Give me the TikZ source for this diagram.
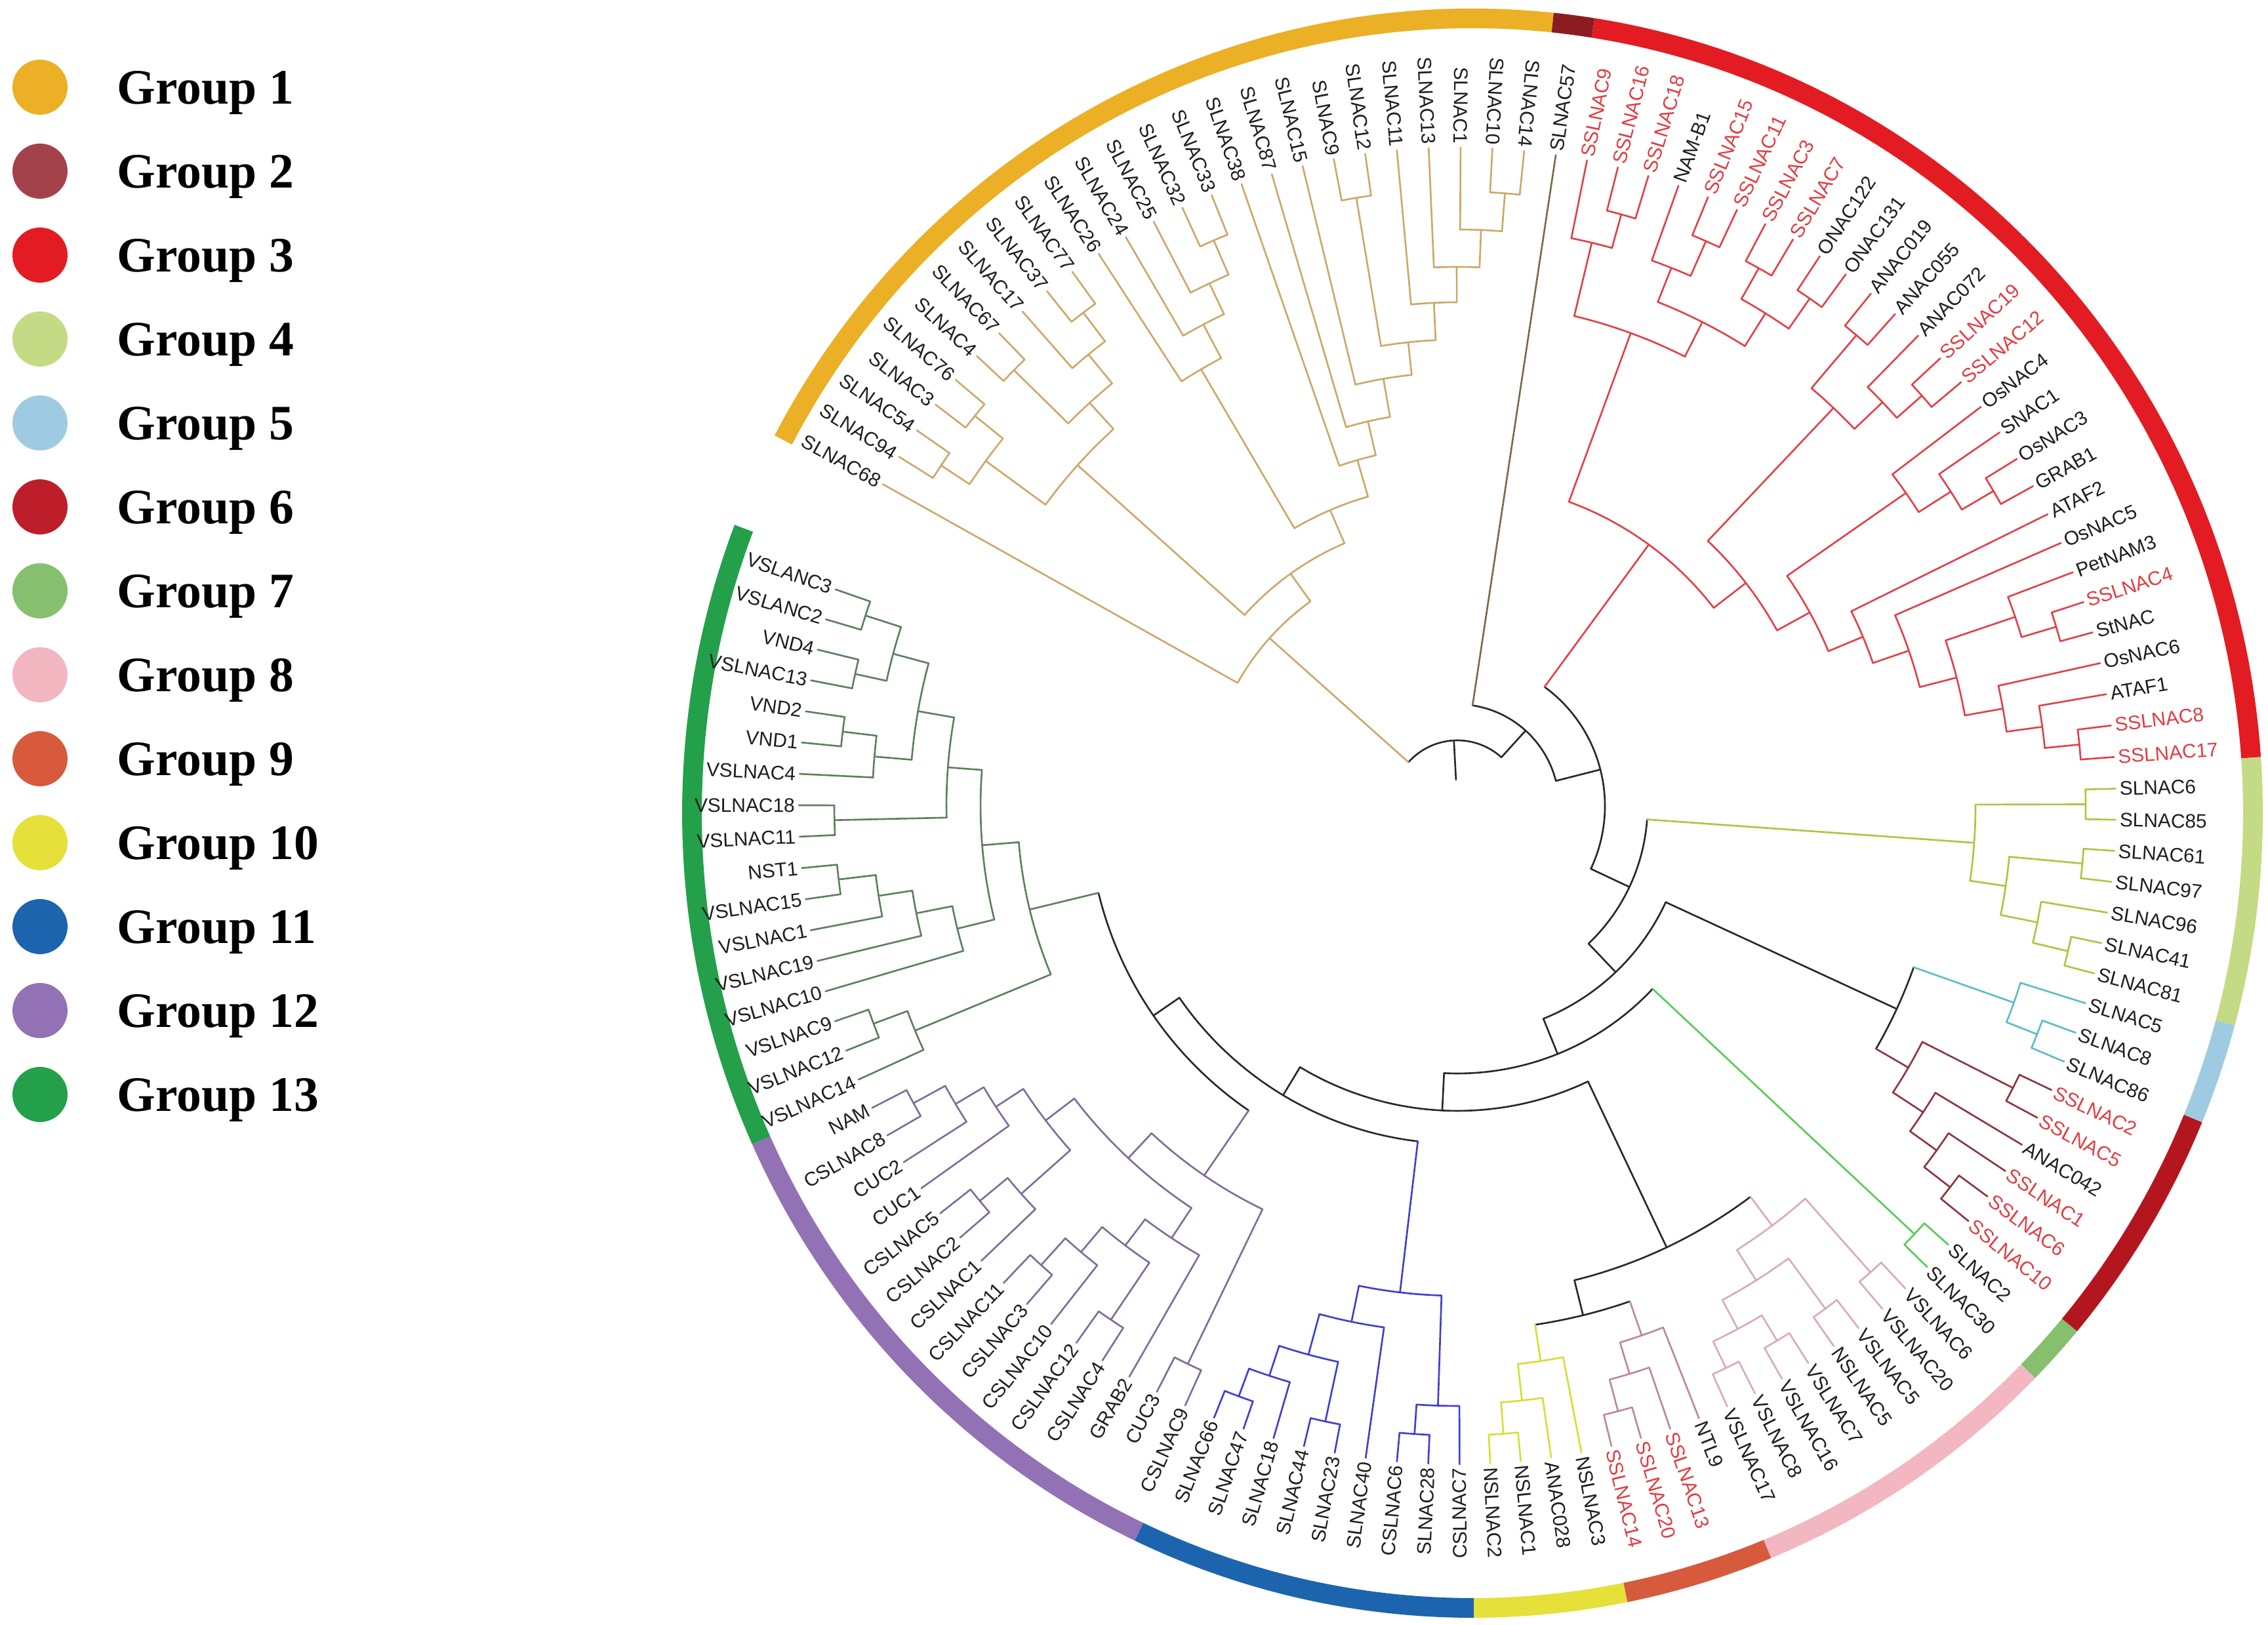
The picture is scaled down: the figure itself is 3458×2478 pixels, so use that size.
\documentclass[tikz,border=0pt]{standalone}
\usepackage{fontspec}
\setmainfont{Liberation Sans}
\newfontfamily\legfont{Liberation Serif}
% branch colours
\definecolor{c1}{RGB}{204,168,104}
\definecolor{c2}{RGB}{125,105,72}
\definecolor{c3}{RGB}{226,64,72}
\definecolor{c4}{RGB}{168,200,64}
\definecolor{c5}{RGB}{92,188,198}
\definecolor{c6}{RGB}{142,52,62}
\definecolor{c7}{RGB}{84,204,84}
\definecolor{c8}{RGB}{216,172,178}
\definecolor{c9}{RGB}{188,138,144}
\definecolor{c10}{RGB}{214,222,52}
\definecolor{c11}{RGB}{62,62,210}
\definecolor{c12}{RGB}{128,108,152}
\definecolor{c13}{RGB}{92,128,92}
\definecolor{cb}{RGB}{40,40,40}
\definecolor{tk}{RGB}{30,30,30}
\definecolor{tr}{RGB}{226,60,66}
% legend / ring colours
\definecolor{k1}{RGB}{235,176,38}
\definecolor{k2}{RGB}{164,66,75}
\definecolor{r2}{RGB}{140,28,34}
\definecolor{k3}{RGB}{226,28,34}
\definecolor{k4}{RGB}{196,218,132}
\definecolor{k5}{RGB}{159,203,226}
\definecolor{k6}{RGB}{190,30,42}
\definecolor{r6}{RGB}{180,22,32}
\definecolor{k7}{RGB}{134,191,109}
\definecolor{k8}{RGB}{242,183,193}
\definecolor{k9}{RGB}{214,90,59}
\definecolor{k10}{RGB}{230,224,58}
\definecolor{k11}{RGB}{28,100,174}
\definecolor{k12}{RGB}{147,113,181}
\definecolor{k13}{RGB}{36,160,74}

\def\Rleaf{1004}
\def\Rlab{1006}

% angle of leaf #1 (piecewise linear calibration)
\newcommand\leafangle[1]{%
  \ifnum#1<26 \pgfmathsetmacro\tmpA{150.75-(#1)*2.774}%
  \else\ifnum#1<55 \pgfmathsetmacro\tmpA{81.4-(#1-25)*2.755}%
  \else\ifnum#1<71 \pgfmathsetmacro\tmpA{1.5-(#1-54)*2.706}%
  \else\ifnum#1<89 \pgfmathsetmacro\tmpA{-41.8-(#1-70)*2.667}%
  \else \pgfmathsetmacro\tmpA{-89.8-(#1-88)*2.735}%
  \fi\fi\fi\fi}

% leaf: index, text, branch colour, text colour
\newcommand\tleaf[4]{%
  \leafangle{#1}%
  \expandafter\xdef\csname TA@l#1\endcsname{\tmpA}%
  \expandafter\xdef\csname TR@l#1\endcsname{\Rleaf}%
  \expandafter\xdef\csname TC@l#1\endcsname{#3}%
  \ifnum#1<25 \pgfmathsetmacro\tmpB{\tmpA+180}%
    \node[lab,text=#4,rotate=\tmpB,anchor=east] (l#1) at (\tmpA:\Rlab) {#2};%
  \else\ifnum#1>87 \pgfmathsetmacro\tmpB{\tmpA+180}%
    \node[lab,text=#4,rotate=\tmpB,anchor=east] (l#1) at (\tmpA:\Rlab) {#2};%
  \else
    \node[lab,text=#4,rotate=\tmpA,anchor=west] (l#1) at (\tmpA:\Rlab) {#2};%
  \fi\fi}

% clade: name, radius, child1, child2, colour
\newcommand\tclade[5]{%
  \edef\tAa{\csname TA@#3\endcsname}\edef\tAb{\csname TA@#4\endcsname}%
  \edef\tRa{\csname TR@#3\endcsname}\edef\tRb{\csname TR@#4\endcsname}%
  \edef\tCa{\csname TC@#3\endcsname}\edef\tCb{\csname TC@#4\endcsname}%
  \pgfmathsetmacro\tmpA{(\tAa+\tAb)/2}%
  \expandafter\xdef\csname TA@#1\endcsname{\tmpA}%
  \expandafter\xdef\csname TR@#1\endcsname{#2}%
  \expandafter\xdef\csname TC@#1\endcsname{#5}%
  \draw[br,draw=#5] (\tAa:#2) arc[start angle=\tAa,end angle=\tAb,radius=#2];%
  \draw[br,draw=\tCa] (\tAa:#2) -- (\tAa:\tRa);%
  \draw[br,draw=\tCb] (\tAb:#2) -- (\tAb:\tRb);%
}

\newcommand\rseg[3]{\draw[line width=3mm,draw=#1] (RC) ++(#2:1190 and 1212) arc[start angle=#2,end angle=#3,x radius=1190,y radius=1212];}

\begin{document}
\begin{tikzpicture}[x=0.1mm,y=0.1mm,
  br/.style={line width=0.75pt,line cap=round},
  lab/.style={font=\fontsize{8.5}{9}\selectfont,inner sep=1pt},
  legtext/.style={font=\legfont\bfseries\fontsize{21.5}{24}\selectfont,inner sep=0pt,anchor=base west}]
\fill[white] (0,0) rectangle (3458,2478);
\useasboundingbox (0,0) rectangle (3458,2478);

% ---------- legend ----------
\foreach \k/\c in {1/k1,2/k2,3/k3,4/k4,5/k5,6/k6,7/k7,8/k8,9/k9,10/k10,11/k11,12/k12,13/k13}{
  \fill[fill=\c] (61,{2345-128*(\k-1)}) circle[radius=42];
  \node[legtext] (lg\k) at (178,{2345-128*(\k-1)-26}) {Group \k};
}

% ---------- outer ring ----------
\coordinate (RC) at (2245,1238);
\rseg{k1}{152}{84.1}
\rseg{r2}{84.1}{81.1}
\rseg{k3}{81.1}{4.0}
\rseg{k4}{4.0}{-15.3}
\rseg{k5}{-15.3}{-22.6}
\rseg{r6}{-22.6}{-40.1}
\rseg{k7}{-40.1}{-44.6}
\rseg{k8}{-44.6}{-67.8}
\rseg{k9}{-67.8}{-78.7}
\rseg{k10}{-78.7}{-89.9}
\rseg{k11}{-89.9}{-115.3}
\rseg{k12}{-115.3}{-155.7}
\rseg{k13}{-155.7}{-201}

% ---------- tree ----------
\begin{scope}[shift={(2222,1249)}]
% leaves
\tleaf{0}{SLNAC68}{c1}{tk}\tleaf{1}{SLNAC94}{c1}{tk}\tleaf{2}{SLNAC54}{c1}{tk}
\tleaf{3}{SLNAC3}{c1}{tk}\tleaf{4}{SLNAC76}{c1}{tk}\tleaf{5}{SLNAC4}{c1}{tk}
\tleaf{6}{SLNAC67}{c1}{tk}\tleaf{7}{SLNAC17}{c1}{tk}\tleaf{8}{SLNAC37}{c1}{tk}
\tleaf{9}{SLNAC77}{c1}{tk}\tleaf{10}{SLNAC26}{c1}{tk}\tleaf{11}{SLNAC24}{c1}{tk}
\tleaf{12}{SLNAC25}{c1}{tk}\tleaf{13}{SLNAC32}{c1}{tk}\tleaf{14}{SLNAC33}{c1}{tk}
\tleaf{15}{SLNAC38}{c1}{tk}\tleaf{16}{SLNAC87}{c1}{tk}\tleaf{17}{SLNAC15}{c1}{tk}
\tleaf{18}{SLNAC9}{c1}{tk}\tleaf{19}{SLNAC12}{c1}{tk}\tleaf{20}{SLNAC11}{c1}{tk}
\tleaf{21}{SLNAC13}{c1}{tk}\tleaf{22}{SLNAC1}{c1}{tk}\tleaf{23}{SLNAC10}{c1}{tk}
\tleaf{24}{SLNAC14}{c1}{tk}
\tleaf{25}{SLNAC57}{c2}{tk}
\tleaf{26}{SSLNAC9}{c3}{tr}\tleaf{27}{SSLNAC16}{c3}{tr}\tleaf{28}{SSLNAC18}{c3}{tr}
\tleaf{29}{NAM-B1}{c3}{tk}\tleaf{30}{SSLNAC15}{c3}{tr}\tleaf{31}{SSLNAC11}{c3}{tr}
\tleaf{32}{SSLNAC3}{c3}{tr}\tleaf{33}{SSLNAC7}{c3}{tr}\tleaf{34}{ONAC122}{c3}{tk}
\tleaf{35}{ONAC131}{c3}{tk}\tleaf{36}{ANAC019}{c3}{tk}\tleaf{37}{ANAC055}{c3}{tk}
\tleaf{38}{ANAC072}{c3}{tk}\tleaf{39}{SSLNAC19}{c3}{tr}\tleaf{40}{SSLNAC12}{c3}{tr}
\tleaf{41}{OsNAC4}{c3}{tk}\tleaf{42}{SNAC1}{c3}{tk}\tleaf{43}{OsNAC3}{c3}{tk}
\tleaf{44}{GRAB1}{c3}{tk}\tleaf{45}{ATAF2}{c3}{tk}\tleaf{46}{OsNAC5}{c3}{tk}
\tleaf{47}{PetNAM3}{c3}{tk}\tleaf{48}{SSLNAC4}{c3}{tr}\tleaf{49}{StNAC}{c3}{tk}
\tleaf{50}{OsNAC6}{c3}{tk}\tleaf{51}{ATAF1}{c3}{tk}\tleaf{52}{SSLNAC8}{c3}{tr}
\tleaf{53}{SSLNAC17}{c3}{tr}
\tleaf{54}{SLNAC6}{c4}{tk}\tleaf{55}{SLNAC85}{c4}{tk}\tleaf{56}{SLNAC61}{c4}{tk}
\tleaf{57}{SLNAC97}{c4}{tk}\tleaf{58}{SLNAC96}{c4}{tk}\tleaf{59}{SLNAC41}{c4}{tk}
\tleaf{60}{SLNAC81}{c4}{tk}
\tleaf{61}{SLNAC5}{c5}{tk}\tleaf{62}{SLNAC8}{c5}{tk}\tleaf{63}{SLNAC86}{c5}{tk}
\tleaf{64}{SSLNAC2}{c6}{tr}\tleaf{65}{SSLNAC5}{c6}{tr}\tleaf{66}{ANAC042}{c6}{tk}
\tleaf{67}{SSLNAC1}{c6}{tr}\tleaf{68}{SSLNAC6}{c6}{tr}\tleaf{69}{SSLNAC10}{c6}{tr}
\tleaf{70}{SLNAC2}{c7}{tk}\tleaf{71}{SLNAC30}{c7}{tk}
\tleaf{72}{VSLNAC6}{c8}{tk}\tleaf{73}{VSLNAC20}{c8}{tk}\tleaf{74}{VSLNAC5}{c8}{tk}
\tleaf{75}{NSLNAC5}{c8}{tk}\tleaf{76}{VSLNAC7}{c8}{tk}\tleaf{77}{VSLNAC16}{c8}{tk}
\tleaf{78}{VSLNAC8}{c8}{tk}\tleaf{79}{VSLNAC17}{c8}{tk}\tleaf{80}{NTL9}{c9}{tk}
\tleaf{81}{SSLNAC13}{c9}{tr}\tleaf{82}{SSLNAC20}{c9}{tr}\tleaf{83}{SSLNAC14}{c9}{tr}
\tleaf{84}{NSLNAC3}{c10}{tk}\tleaf{85}{ANAC028}{c10}{tk}\tleaf{86}{NSLNAC1}{c10}{tk}
\tleaf{87}{NSLNAC2}{c10}{tk}
\tleaf{88}{CSLNAC7}{c11}{tk}\tleaf{89}{SLNAC28}{c11}{tk}\tleaf{90}{CSLNAC6}{c11}{tk}
\tleaf{91}{SLNAC40}{c11}{tk}\tleaf{92}{SLNAC23}{c11}{tk}\tleaf{93}{SLNAC44}{c11}{tk}
\tleaf{94}{SLNAC18}{c11}{tk}\tleaf{95}{SLNAC47}{c11}{tk}\tleaf{96}{SLNAC66}{c11}{tk}
\tleaf{97}{CSLNAC9}{c12}{tk}\tleaf{98}{CUC3}{c12}{tk}\tleaf{99}{GRAB2}{c12}{tk}
\tleaf{100}{CSLNAC4}{c12}{tk}\tleaf{101}{CSLNAC12}{c12}{tk}\tleaf{102}{CSLNAC10}{c12}{tk}
\tleaf{103}{CSLNAC3}{c12}{tk}\tleaf{104}{CSLNAC11}{c12}{tk}\tleaf{105}{CSLNAC1}{c12}{tk}
\tleaf{106}{CSLNAC2}{c12}{tk}\tleaf{107}{CSLNAC5}{c12}{tk}\tleaf{108}{CUC1}{c12}{tk}
\tleaf{109}{CUC2}{c12}{tk}\tleaf{110}{CSLNAC8}{c12}{tk}\tleaf{111}{NAM}{c12}{tk}
\tleaf{112}{VSLNAC14}{c13}{tk}\tleaf{113}{VSLNAC12}{c13}{tk}\tleaf{114}{VSLNAC9}{c13}{tk}
\tleaf{115}{VSLNAC10}{c13}{tk}\tleaf{116}{VSLNAC19}{c13}{tk}\tleaf{117}{VSLNAC1}{c13}{tk}
\tleaf{118}{VSLNAC15}{c13}{tk}\tleaf{119}{NST1}{c13}{tk}\tleaf{120}{VSLNAC11}{c13}{tk}
\tleaf{121}{VSLNAC18}{c13}{tk}\tleaf{122}{VSLNAC4}{c13}{tk}\tleaf{123}{VND1}{c13}{tk}
\tleaf{124}{VND2}{c13}{tk}\tleaf{125}{VSLNAC13}{c13}{tk}\tleaf{126}{VND4}{c13}{tk}
\tleaf{127}{VSLANC2}{c13}{tk}\tleaf{128}{VSLANC3}{c13}{tk}

% group 1
\tclade{g1a}{943}{l1}{l2}{c1}
\tclade{g1b}{946}{l3}{l4}{c1}
\tclade{g1c}{891}{g1a}{g1b}{c1}
\tclade{g1d}{948}{l5}{l6}{c1}
\tclade{g1e}{944}{l8}{l9}{c1}
\tclade{g1f}{889}{l7}{g1e}{c1}
\tclade{g1g}{832}{g1d}{g1f}{c1}
\tclade{g1h}{778}{g1c}{g1g}{c1}
\tclade{g1i}{939}{l13}{l14}{c1}
\tclade{g1j}{882}{l12}{g1i}{c1}
\tclade{g1k}{830}{l11}{g1j}{c1}
\tclade{g1l}{772}{l10}{g1k}{c1}
\tclade{g1m}{940}{l18}{l19}{c1}
\tclade{g1n}{937}{l23}{l24}{c1}
\tclade{g1o}{879}{l22}{g1n}{c1}
\tclade{g1p}{822}{l21}{g1o}{c1}
\tclade{g1q}{768}{l20}{g1p}{c1}
\tclade{g1r}{711}{g1m}{g1q}{c1}
\tclade{g1s}{661}{l17}{g1r}{c1}
\tclade{g1t}{602}{l16}{g1s}{c1}
\tclade{g1u}{549}{l15}{g1t}{c1}
\tclade{g1v}{491}{g1l}{g1u}{c1}
\tclade{g1w}{436}{g1h}{g1v}{c1}
\tclade{G1}{384}{l0}{g1w}{c1}
% group 3
\tclade{g3a}{936}{l27}{l28}{c3}
\tclade{g3b}{883}{l26}{g3a}{c3}
\tclade{g3c}{941}{l30}{l31}{c3}
\tclade{g3d}{883}{l29}{g3c}{c3}
\tclade{g3e}{940}{l32}{l33}{c3}
\tclade{g3f}{942}{l34}{l35}{c3}
\tclade{g3g}{886}{g3e}{g3f}{c3}
\tclade{g3h}{827}{g3d}{g3g}{c3}
\tclade{g3i}{768}{g3b}{g3h}{c3}
\tclade{g3j}{941}{l36}{l37}{c3}
\tclade{g3k}{945}{l39}{l40}{c3}
\tclade{g3l}{894}{l38}{g3k}{c3}
\tclade{g3m}{835}{g3j}{g3l}{c3}
\tclade{g3n}{948}{l43}{l44}{c3}
\tclade{g3o}{892}{l42}{g3n}{c3}
\tclade{g3p}{834}{l41}{g3o}{c3}
\tclade{g3q}{953}{l52}{l53}{c3}
\tclade{g3r}{900}{l51}{g3q}{c3}
\tclade{g3s}{845}{l50}{g3r}{c3}
\tclade{g3t}{953}{l48}{l49}{c3}
\tclade{g3u}{898}{l47}{g3t}{c3}
\tclade{g3v}{786}{g3u}{g3s}{c3}
\tclade{g3w}{728}{l46}{g3v}{c3}
\tclade{g3x}{670}{l45}{g3w}{c3}
\tclade{g3y}{613}{g3p}{g3x}{c3}
\tclade{g3z}{556}{g3m}{g3y}{c3}
\tclade{G3}{494}{g3i}{g3z}{c3}
% group 4
\tclade{g4a}{958}{l54}{l55}{c4}
\tclade{g4b}{957}{l56}{l57}{c4}
\tclade{g4c}{957}{l59}{l60}{c4}
\tclade{g4d}{902}{l58}{g4c}{c4}
\tclade{g4e}{845}{g4b}{g4d}{c4}
\tclade{G4}{790}{g4a}{g4e}{c4}
% groups 5 and 6
\tclade{g5a}{950}{l62}{l63}{c5}
\tclade{G5}{900}{l61}{g5a}{c5}
\tclade{g6a}{950}{l64}{l65}{c6}
\tclade{g6b}{950}{l68}{l69}{c6}
\tclade{g6c}{900}{l67}{g6b}{c6}
\tclade{g6d}{850}{l66}{g6c}{c6}
\tclade{G6}{795}{g6a}{g6d}{c6}
\tclade{G56}{738}{G5}{G6}{cb}
% group 7
\tclade{G7}{955}{l70}{l71}{c7}
% group 8
\tclade{g8a}{950}{l72}{l73}{c8}
\tclade{g8b}{950}{l74}{l75}{c8}
\tclade{g8c}{950}{l76}{l77}{c8}
\tclade{g8d}{950}{l78}{l79}{c8}
\tclade{g8e}{905}{g8c}{g8d}{c8}
\tclade{g8f}{855}{g8b}{g8e}{c8}
\tclade{G8}{800}{g8a}{g8f}{c8}
% group 9
\tclade{g9a}{955}{l82}{l83}{c9}
\tclade{g9b}{905}{l81}{g9a}{c9}
\tclade{G9}{855}{l80}{g9b}{c9}
% group 10
\tclade{g10a}{960}{l86}{l87}{c10}
\tclade{g10b}{912}{l85}{g10a}{c10}
\tclade{G10}{856}{l84}{g10b}{c10}
% group 11
\tclade{g11a}{960}{l89}{l90}{c11}
\tclade{g11b}{915}{l88}{g11a}{c11}
\tclade{g11c}{960}{l92}{l93}{c11}
\tclade{g11d}{960}{l95}{l96}{c11}
\tclade{g11e}{915}{l94}{g11d}{c11}
\tclade{g11f}{867}{g11c}{g11e}{c11}
\tclade{g11g}{803}{l91}{g11f}{c11}
\tclade{G11}{747}{g11b}{g11g}{c11}
% group 12
\tclade{g12a}{945}{l97}{l98}{c12}
\tclade{g12b}{945}{l100}{l101}{c12}
\tclade{g12c}{945}{l103}{l104}{c12}
\tclade{g12d}{890}{l102}{g12c}{c12}
\tclade{g12e}{840}{g12b}{g12d}{c12}
\tclade{g12f}{790}{l99}{g12e}{c12}
\tclade{g12g}{945}{l106}{l107}{c12}
\tclade{g12h}{890}{l105}{g12g}{c12}
\tclade{g12i}{945}{l110}{l111}{c12}
\tclade{g12j}{890}{l109}{g12i}{c12}
\tclade{g12k}{840}{l108}{g12j}{c12}
\tclade{g12l}{790}{g12h}{g12k}{c12}
\tclade{g12m}{735}{g12f}{g12l}{c12}
\tclade{G12}{683}{g12a}{g12m}{c12}
% group 13
\tclade{g13a}{950}{l113}{l114}{c13}
\tclade{g13b}{895}{l112}{g13a}{c13}
\tclade{g13c}{950}{l118}{l119}{c13}
\tclade{g13d}{893}{l117}{g13c}{c13}
\tclade{g13e}{841}{l116}{g13d}{c13}
\tclade{g13f}{785}{l115}{g13e}{c13}
\tclade{g13g}{950}{l120}{l121}{c13}
\tclade{g13h}{944}{l123}{l124}{c13}
\tclade{g13i}{892}{l122}{g13h}{c13}
\tclade{g13j}{940}{l125}{l126}{c13}
\tclade{g13k}{948}{l127}{l128}{c13}
\tclade{g13l}{891}{g13j}{g13k}{c13}
\tclade{g13m}{835}{g13i}{g13l}{c13}
\tclade{g13n}{779}{g13g}{g13m}{c13}
\tclade{g13o}{727}{g13f}{g13n}{c13}
\tclade{G13}{671}{g13b}{g13o}{c13}
% backbone
\tclade{Q9}{563}{G12}{G13}{cb}
\tclade{Q6}{515}{G11}{Q9}{cb}
\tclade{Q8}{800}{G9}{G10}{cb}
\tclade{Q7}{745}{G8}{Q8}{cb}
\tclade{Q5}{465}{Q7}{Q6}{cb}
\tclade{Q4}{408}{G7}{Q5}{cb}
\tclade{Q3}{350}{G56}{Q4}{cb}
\tclade{Q2}{290}{G4}{Q3}{cb}
\tclade{Q1}{225}{G3}{Q2}{cb}
\tclade{P1}{155}{l25}{Q1}{cb}
\tclade{root}{100}{G1}{P1}{cb}
\edef\tAa{\csname TA@root\endcsname}
\coordinate (rootin) at (\tAa:40);
\draw[br,draw=cb] (\tAa:100) -- (rootin);
\end{scope}
\end{tikzpicture}
\end{document}
